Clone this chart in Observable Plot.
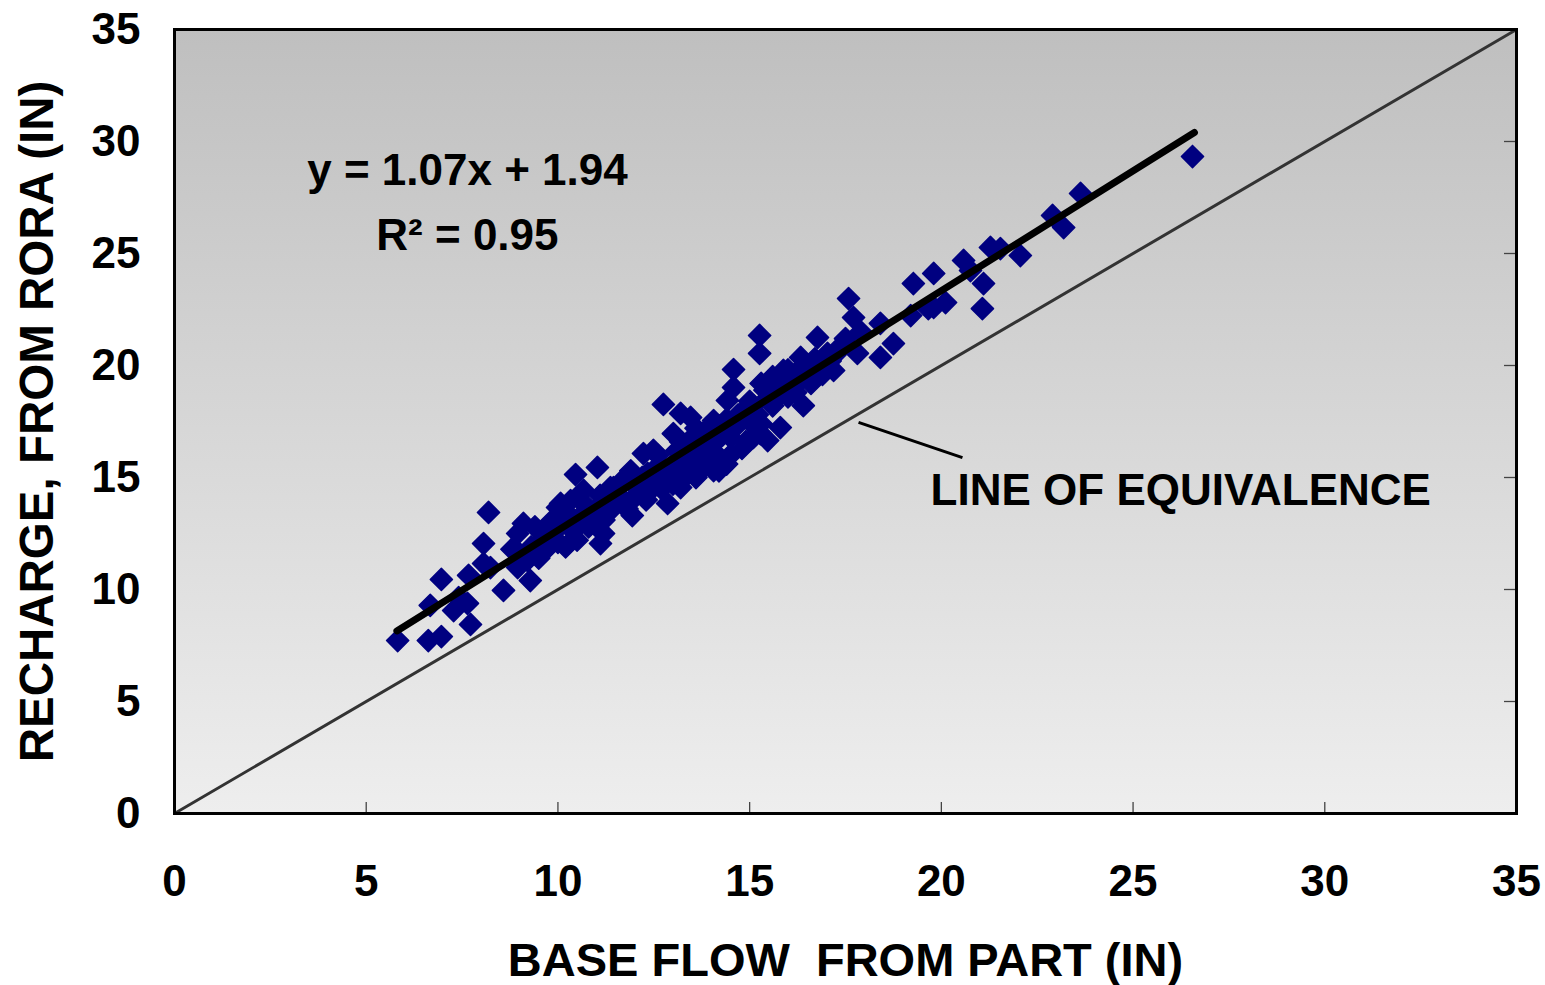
<!DOCTYPE html>
<html><head><meta charset="utf-8">
<script src="https://cdn.jsdelivr.net/npm/d3@7"></script>
<script src="https://cdn.jsdelivr.net/npm/@observablehq/plot@0.6"></script>
<style>
body{margin:0;background:#fff;}
#chart svg{font-family:"Liberation Sans",Arial,sans-serif;}
</style></head><body><div id="chart"></div>
<script>
// Base flow from PART (in) and recharge from RORA (in)
const baseFlow = [
  5.82,6.62,6.96,7.72,6.67,6.96,7.41,7.64,7.67,8.06,8.19,8.06,8.58,8.24,7.28,8.95,9.28,9.10,9.47,9.73,
  9.99,10.33,10.46,10.67,11.11,11.19,11.37,11.03,8.95,10.07,11.94,11.45,12.34,12.49,13.01,14.06,14.42,13.38,12.86,14.06,
  13.20,12.75,13.20,13.46,15.26,15.26,14.58,16.77,16.33,15.88,16.40,15.80,15.10,15.47,17.19,17.03,14.58,14.16,13.72,12.23,
  17.58,17.71,18.41,18.75,18.41,19.27,19.80,17.81,19.80,15.28,23.63,22.90,23.19,22.06,21.28,20.58,21.10,21.07,20.11,19.66,
  19.20,20.76,21.54,26.55,17.90,
  9.0,9.3,9.5,9.6,9.9,10.1,10.2,10.4,10.6,10.8,11.0,11.2,11.4,11.6,11.8,11.9,12.1,12.3,12.4,12.6,
  12.7,12.9,13.0,13.1,13.3,13.4,13.6,13.7,13.8,13.9,14.0,14.2,14.3,14.4,14.5,14.6,14.8,14.9,15.0,15.2,
  15.3,15.5,15.6,15.9,16.1,16.2,16.5,16.7,17.0,17.3,17.5,16.0,16.6,16.9,
  8.8,9.2,9.4,9.7,9.8,10.0,10.3,10.5,10.7,10.9,11.1,11.3,11.5,11.7,11.9,12.0,12.2,12.4,12.6,12.8,
  13.0,13.2,13.3,13.5,13.6,13.8,13.9,14.1,14.2,14.4,14.5,14.7,14.8,15.0,15.1,15.3,15.4,15.6,15.8,16.0,
  16.3,16.4,16.8,17.1,17.4
];
const recharge = [
  7.72,7.72,7.90,8.44,9.29,10.45,9.64,9.38,10.63,12.05,13.44,11.16,9.96,10.98,9.06,10.98,10.40,12.95,12.05,12.05,
  13.66,13.97,15.13,14.42,12.05,12.50,14.55,15.45,12.50,13.84,13.30,14.55,15.18,16.21,16.96,17.54,18.44,15.76,13.84,15.31,
  14.55,18.26,17.86,17.68,21.34,20.54,19.82,21.25,20.36,19.78,18.21,17.23,16.79,16.65,19.78,20.54,19.02,15.76,15.31,16.07,
  22.99,22.14,21.88,20.98,20.36,23.66,24.11,20.54,22.59,16.96,27.68,26.70,26.16,24.91,25.27,24.69,23.66,22.54,22.81,22.54,
  22.23,24.24,25.22,29.33,21.50,
  11.6,11.9,11.4,12.6,12.3,12.9,11.9,12.6,13.3,12.8,13.6,13.1,13.8,14.2,13.6,14.8,14.3,14.0,14.9,15.5,
  14.5,15.2,14.7,16.2,15.5,16.6,15.0,16.1,17.0,15.6,16.4,15.3,16.9,17.6,16.0,17.2,17.9,16.6,18.4,17.8,
  19.2,18.6,19.5,19.0,19.6,18.8,19.9,20.3,20.0,20.6,21.2,18.6,19.2,19.6,
  11.8,11.3,12.8,11.8,13.0,12.1,13.3,12.2,13.8,13.2,14.2,13.4,13.9,14.9,15.3,14.1,15.0,14.4,16.0,15.0,
  15.6,16.6,15.0,16.3,17.2,15.8,16.8,16.1,17.3,15.6,16.8,17.8,16.3,17.5,18.2,17.4,18.9,18.2,18.7,19.8,
  19.3,20.0,19.9,20.2,20.9
];
const xTicks = [0, 5, 10, 15, 20, 25, 30, 35];
const yTicks = [0, 5, 10, 15, 20, 25, 30, 35];
// trendline y = 1.07x + 1.94 drawn over the data range
const trendX = [5.8, 26.6];
const trendY = [8.15, 30.4];
// line of equivalence
const equivX = [0, 35];
const equivY = [0, 35];
// annotation pointer
const pointerX = [17.84, 20.55];
const pointerY = [17.46, 15.89];
const eqLines = ["y = 1.07x + 1.94", "R\u00b2 = 0.95"];
const eqX = [7.64, 7.64];
const eqY = [28.7, 25.8];
const equivLabel = "LINE OF EQUIVALENCE";
const equivLabelX = 19.72;
const equivLabelY = 14.42;
const xTitle = "BASE FLOW\u00a0 FROM PART (IN)";
const yTitle = "RECHARGE, FROM RORA (IN)";

const points = baseFlow.map((x, i) => ({x, y: recharge[i]}));
const trend = trendX.map((x, i) => ({x, y: trendY[i]}));
const equiv = equivX.map((x, i) => ({x, y: equivY[i]}));
const eq = eqLines.map((t, i) => ({t, x: eqX[i], y: eqY[i]}));

const font = "'Liberation Sans', Arial, sans-serif";
const plot = Plot.plot({
  width: 1545, height: 985,
  marginLeft: 174, marginRight: 29, marginTop: 29, marginBottom: 172,
  x: {domain: [0, 35]},
  y: {domain: [0, 35]},
  style: {fontFamily: font, background: "white", color: "black"},
  marks: [
    Plot.frame({fill: "url(#bgGrad)", stroke: null}),
    Plot.line(equiv, {x: "x", y: "y", stroke: "#333", strokeWidth: 3}),
    Plot.dot(points, {x: "x", y: "y", symbol: "diamond2", r: 10, fill: "#000080", stroke: "#000080", strokeWidth: 1.5, strokeLinejoin: "round"}),
    Plot.line(trend, {x: "x", y: "y", stroke: "black", strokeWidth: 7, strokeLinecap: "round"}),
    Plot.link([0], {x1: () => pointerX[0], y1: () => pointerY[0], x2: () => pointerX[1], y2: () => pointerY[1], stroke: "black", strokeWidth: 3}),
    Plot.text(eq, {x: "x", y: "y", text: "t", fontSize: 44, fontWeight: "bold", textAnchor: "middle", lineAnchor: "middle", fill: "black"}),
    Plot.text([equivLabel], {x: () => equivLabelX, y: () => equivLabelY, text: d => d, fontSize: 44, fontWeight: "bold", textAnchor: "start", lineAnchor: "middle", fill: "black"}),
    Plot.tickX(xTicks, {x: d => d, insetTop: 773, stroke: "#444", strokeWidth: 1.3}),
    Plot.tickY(yTicks, {y: d => d, insetLeft: 1330, stroke: "#444", strokeWidth: 1.3}),
    Plot.axisX({ticks: xTicks, tickSize: 0, tickPadding: 51, fontSize: 44, fontWeight: "bold", label: null}),
    Plot.axisY({ticks: yTicks, tickSize: 0, tickPadding: 34, fontSize: 44, fontWeight: "bold", label: null}),
    Plot.frame({stroke: "black", strokeWidth: 3}),
    Plot.text([xTitle], {frameAnchor: "bottom", dy: 147, text: d => d, fontSize: 47, fontWeight: "bold", textAnchor: "middle", lineAnchor: "middle", fill: "black"}),
    Plot.text([yTitle], {frameAnchor: "left", dx: -137, rotate: -90, text: d => d, fontSize: 47.5, fontWeight: "bold", textAnchor: "middle", lineAnchor: "middle", fill: "black"})
  ]
});
const defs = document.createElementNS("http://www.w3.org/2000/svg", "defs");
defs.innerHTML = '<linearGradient id="bgGrad" x1="0" y1="0" x2="0" y2="1"><stop offset="0" stop-color="#bfbfbf"/><stop offset="1" stop-color="#eeeeee"/></linearGradient>';
plot.insertBefore(defs, plot.firstChild);
document.getElementById("chart").appendChild(plot);
</script></body></html>
